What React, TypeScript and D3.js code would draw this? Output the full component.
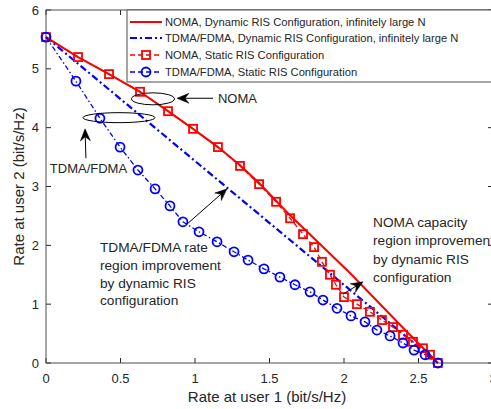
import React from "react";
import * as d3 from "d3";

const xTicks = [0, 0.5, 1, 1.5, 2, 2.5, 3];
const yTicks = [0, 1, 2, 3, 4, 5, 6];

const nomaDynX = [0, 0.215, 0.423, 0.631, 0.819, 0.987, 1.154, 1.302, 1.43, 1.638, 2.04, 2.376, 2.63];
const nomaDynY = [5.54, 5.2, 4.91, 4.61, 4.28, 3.98, 3.67, 3.36, 3.06, 2.51, 1.53, 0.65, 0];

const tdmaDynX = [0, 2.63];
const tdmaDynY = [5.54, 0];

const nomaStaticX = [0, 0.215, 0.423, 0.631, 0.819, 0.987, 1.154, 1.302, 1.43, 1.544, 1.638, 1.725, 1.799, 1.852, 1.906, 1.946, 2.0, 2.087, 2.174, 2.255, 2.329, 2.396, 2.463, 2.53, 2.577, 2.63];
const nomaStaticY = [5.54, 5.2, 4.91, 4.61, 4.28, 3.98, 3.67, 3.35, 3.04, 2.74, 2.46, 2.19, 1.97, 1.72, 1.5, 1.33, 1.12, 1.0, 0.87, 0.73, 0.61, 0.48, 0.36, 0.25, 0.14, 0];

const tdmaStaticX = [0, 0.201, 0.362, 0.497, 0.617, 0.732, 0.832, 0.919, 1.027, 1.148, 1.262, 1.356, 1.463, 1.57, 1.671, 1.772, 1.859, 1.953, 2.047, 2.141, 2.221, 2.309, 2.396, 2.47, 2.544, 2.63];
const tdmaStaticY = [5.54, 4.79, 4.16, 3.67, 3.28, 2.96, 2.67, 2.4, 2.23, 2.06, 1.89, 1.75, 1.6, 1.46, 1.33, 1.21, 1.07, 0.93, 0.8, 0.7, 0.56, 0.46, 0.34, 0.22, 0.14, 0];

const legendLabels = [
  "NOMA, Dynamic RIS Configuration, infinitely large N",
  "TDMA/FDMA, Dynamic RIS Configuration, infinitely large N",
  "NOMA, Static RIS Configuration",
  "TDMA/FDMA, Static RIS Configuration",
];

const tdmaNote = ["TDMA/FDMA rate", "region improvement", "by dynamic RIS", "configuration"];
const nomaNote = ["NOMA capacity", "region improvement", "by dynamic RIS", "configuration"];

const FONT = "'Liberation Sans', Arial, Helvetica, sans-serif";
const RED = "#ff0000";
const BLUE = "#0000ff";
const AX = "#262626";
const BORDER = "#4d4d4d";

const L = 46, R = 493, T = 10, B = 363;

function Arrow({ x1, y1, x2, y2 }: { x1: number; y1: number; x2: number; y2: number }) {
  const ang = Math.atan2(y2 - y1, x2 - x1);
  const len = 12, half = 5, notch = 4;
  const ux = Math.cos(ang), uy = Math.sin(ang);
  const px = -uy, py = ux;
  const bx = x2 - ux * len, by = y2 - uy * len;
  const nx = x2 - ux * (len - notch), ny = y2 - uy * (len - notch);
  const d = `M${x2},${y2} L${bx + px * half},${by + py * half} L${nx},${ny} L${bx - px * half},${by - py * half} Z`;
  return (
    <g>
      <line x1={x1} y1={y1} x2={nx} y2={ny} stroke="#000" strokeWidth={1} />
      <path d={d} fill="#000" stroke="#000" strokeWidth={0.5} />
    </g>
  );
}

export default function App() {
  const x = d3.scaleLinear().domain([0, 3]).range([L, R]);
  const y = d3.scaleLinear().domain([0, 6]).range([B, T]);
  const line = (xs: number[], ys: number[]) =>
    d3.line<number>().x((_, i) => x(xs[i])).y((_, i) => y(ys[i]))(xs) || "";

  const legX = 127, legRowY = [22, 38, 55, 72];

  return (
    <svg width={491} height={409} style={{ position: "absolute", left: 0, top: 0, background: "#fff" }} fontFamily={FONT}>
      <rect x={0} y={0} width={491} height={409} fill="#fff" />
      {xTicks.map((t) => (
        <g key={"xt" + t}>
          <line x1={x(t)} x2={x(t)} y1={B} y2={B - 5} stroke={AX} />
          <line x1={x(t)} x2={x(t)} y1={T} y2={T + 5} stroke={AX} />
          <text x={x(t)} y={383} fontSize={13} textAnchor="middle" fill={AX}>{t}</text>
        </g>
      ))}
      {yTicks.map((t) => (
        <g key={"yt" + t}>
          <line x1={L} x2={L + 5} y1={y(t)} y2={y(t)} stroke={AX} />
          <line x1={R} x2={R - 5} y1={y(t)} y2={y(t)} stroke={AX} />
          <text x={39} y={y(t) + 4.5} fontSize={13} textAnchor="end" fill={AX}>{t}</text>
        </g>
      ))}
      <rect x={L} y={T} width={R - L} height={B - T} fill="none" stroke={BORDER} strokeWidth={1} />
      <text x={267} y={402} fontSize={15} textAnchor="middle" fill={AX}>Rate at user 1 (bit/s/Hz)</text>
      <text transform={`translate(24,${(T + B) / 2}) rotate(-90)`} fontSize={15} textAnchor="middle" fill={AX}>Rate at user 2 (bit/s/Hz)</text>

      <path d={line(nomaDynX, nomaDynY)} fill="none" stroke={RED} strokeWidth={2} />
      <path d={line(tdmaDynX, tdmaDynY)} fill="none" stroke={BLUE} strokeWidth={2.2} strokeDasharray="7,3,2,3" />
      <path d={line(nomaStaticX, nomaStaticY)} fill="none" stroke={RED} strokeWidth={1.3} strokeDasharray="5,3" />
      <path d={line(tdmaStaticX, tdmaStaticY)} fill="none" stroke={BLUE} strokeWidth={1.3} strokeDasharray="5,2.5,1.5,2.5" />
      {nomaStaticX.map((v, i) => (
        <rect key={"s" + i} x={x(v) - 4} y={y(nomaStaticY[i]) - 4} width={8} height={8} fill="none" stroke={RED} strokeWidth={1.8} />
      ))}
      {tdmaStaticX.map((v, i) => (
        <circle key={"c" + i} cx={x(v)} cy={y(tdmaStaticY[i])} r={4.5} fill="none" stroke={BLUE} strokeWidth={1.8} />
      ))}

      <ellipse cx={x(0.718)} cy={y(4.49)} rx={21.5} ry={6} fill="none" stroke="#000" strokeWidth={1} />
      <ellipse cx={x(0.49)} cy={y(4.17)} rx={36} ry={5} fill="none" stroke="#000" strokeWidth={1} />
      <Arrow x1={x(1.121)} y1={y(4.5)} x2={x(0.879)} y2={y(4.5)} />
      <text x={x(1.154)} y={y(4.5) + 4.5} fontSize={13} fill={AX}>NOMA</text>
      <Arrow x1={x(0.268)} y1={y(3.48)} x2={x(0.262)} y2={y(3.98)} />
      <text x={x(0.285)} y={y(3.31) + 4.5} fontSize={13} textAnchor="middle" fill={AX}>TDMA/FDMA</text>
      {tdmaNote.map((s, i) => (
        <text key={"tn" + i} x={x(0.362)} y={y(1.97) + 5 + i * 17.8} fontSize={13.7} fill={AX}>{s}</text>
      ))}
      <Arrow x1={x(0.946)} y1={y(2.36)} x2={x(1.215)} y2={y(2.96)} />
      {nomaNote.map((s, i) => (
        <text key={"nn" + i} x={x(2.195)} y={y(2.4) + 5 + i * 18.5} fontSize={13.7} fill={AX}>{s}</text>
      ))}
      <Arrow x1={x(1.993)} y1={y(1.17)} x2={x(2.128)} y2={y(1.38)} />

      <rect x={legX} y={T} width={493 - legX} height={82 - T} fill="#fff" stroke={BORDER} strokeWidth={1} />
      <line x1={130} x2={162} y1={legRowY[0]} y2={legRowY[0]} stroke={RED} strokeWidth={2} />
      <line x1={130} x2={162} y1={legRowY[1]} y2={legRowY[1]} stroke={BLUE} strokeWidth={2.2} strokeDasharray="7,3,2,3" />
      <line x1={130} x2={162} y1={legRowY[2]} y2={legRowY[2]} stroke={RED} strokeWidth={1.3} strokeDasharray="5,3" />
      <rect x={142} y={legRowY[2] - 4} width={8} height={8} fill="none" stroke={RED} strokeWidth={1.8} />
      <line x1={130} x2={162} y1={legRowY[3]} y2={legRowY[3]} stroke={BLUE} strokeWidth={1.3} strokeDasharray="5,3" />
      <circle cx={146} cy={legRowY[3]} r={4.5} fill="none" stroke={BLUE} strokeWidth={1.8} />
      {legendLabels.map((s, i) => (
        <text key={"l" + i} x={165} y={legRowY[i] + 4} fontSize={11.2} fill={AX}>{s}</text>
      ))}
    </svg>
  );
}
